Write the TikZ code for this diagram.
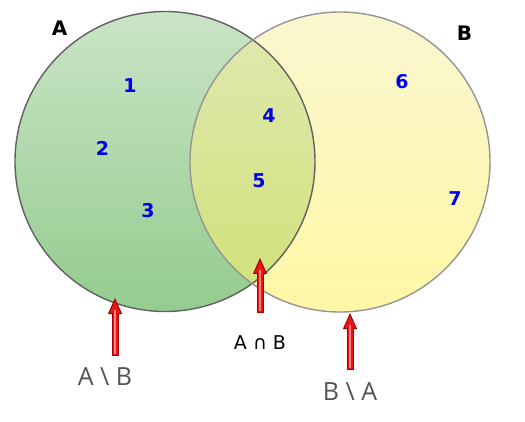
\documentclass[tikz,border=0pt]{standalone}
\usepackage{fontspec}
\setmainfont{DejaVu Sans}
\newfontfamily\capfont{Open Sans}
\usetikzlibrary{arrows.meta}
\definecolor{greentop}{RGB}{202,228,198}
\definecolor{greenbot}{RGB}{148,204,142}
\definecolor{yellowtop}{RGB}{250,247,208}
\definecolor{yellowbot}{RGB}{255,247,165}
\definecolor{mixtop}{RGB}{224,233,178}
\definecolor{mixbot}{RGB}{208,225,118}
\definecolor{arrowred}{RGB}{170,0,0}
\definecolor{arrowfill}{RGB}{228,22,22}
\definecolor{arrowlight}{RGB}{255,130,130}
\definecolor{numblue}{RGB}{0,0,235}

\begin{document}
\begin{tikzpicture}[
  x=1pt,y=-1pt,
  setname/.style={font=\bfseries\fontsize{20}{20}\selectfont,text=black,inner sep=0pt},
  num/.style={font=\bfseries\fontsize{19}{19}\selectfont,text=numblue,inner sep=0pt},
  note/.style={font=\capfont\fontsize{25}{25}\selectfont,text=black!68,anchor=base,inner sep=0pt},
  redarrow/.style={draw=arrowred,line width=7pt,
    -{Triangle[length=16pt,width=14pt,line width=1pt,fill=arrowfill]},
    postaction={draw=arrowfill,line width=5pt,-,shorten >=15pt,shorten <=1pt},
    postaction={draw=arrowlight,line width=1.5pt,-,xshift=-0.8pt,shorten >=12pt,shorten <=2pt}}
]
\useasboundingbox (0,0) rectangle (525,422);
\coordinate (ca) at (165,161.5);
\coordinate (cb) at (340,162);
% the two sets
\shade[top color=greentop,bottom color=greenbot] (ca) circle (150);
\shade[top color=yellowtop,bottom color=yellowbot] (cb) circle (150);
\begin{scope}
\clip (ca) circle (150);
\shade[top color=mixtop,bottom color=mixbot] (cb) circle (150);
\end{scope}
\draw[line width=1.4pt,black!62] (ca) circle (150);
\draw[line width=1.4pt,black!42] (cb) circle (150);
\node[setname] (la) at (59.5,28) {A};
\node[setname] (lb) at (464.5,33) {B};
% region numbers
\node[num] (n1) at (130,86) {1};
\node[num] (n2) at (102.5,148) {2};
\node[num] (n3) at (148,211) {3};
\node[num] (n4) at (269,116) {4};
\node[num] (n5) at (259,181) {5};
\node[num] (n6) at (402,82) {6};
\node[num] (n7) at (455,199) {7};
% captions and pointers
\node[note] (diffab) at (105,385) {A \textbackslash{} B};
\node[note,font=\fontsize{19}{19}\selectfont,text=black] (inter) at (260,349) {A ∩ B};
\node[note] (diffba) at (350,400) {B \textbackslash{} A};
\coordinate (tailab) at (115,356); \coordinate (tipab) at (115,298);
\coordinate (tailin) at (260,313); \coordinate (tipin) at (260,258);
\coordinate (tailba) at (350,370); \coordinate (tipba) at (350,313);
\draw[redarrow] (tailab) -- (tipab);
\draw[redarrow] (tailin) -- (tipin);
\draw[redarrow] (tailba) -- (tipba);
\end{tikzpicture}
\end{document}
